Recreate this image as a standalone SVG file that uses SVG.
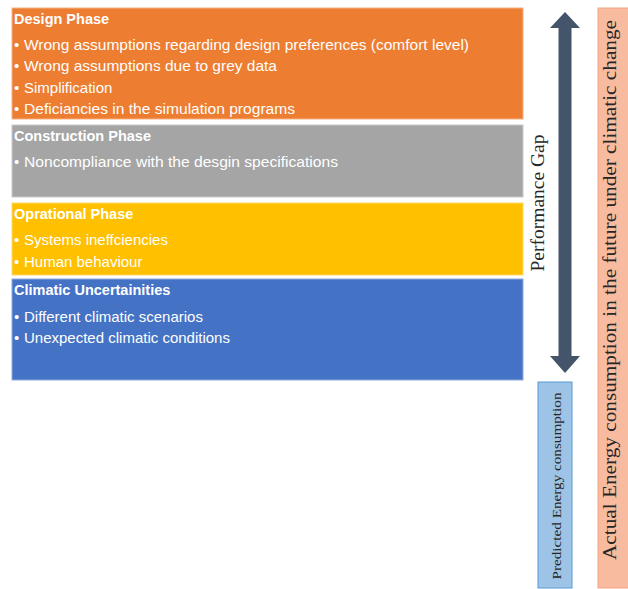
<svg xmlns="http://www.w3.org/2000/svg" width="628" height="589" viewBox="0 0 628 589">
<style>
.t{font-family:"Liberation Sans",Arial,sans-serif;fill:#fff;font-size:15px}
.h{font-weight:bold;font-size:14.5px}
.s{font-family:"Liberation Serif","Times New Roman",serif;fill:#262626}
</style>
<rect width="628" height="589" fill="#fff"/>
<g id="design">
<rect x="12" y="8" width="511" height="111" fill="#ED7D31" stroke="#F4B183" stroke-width="1"/>
<text class="t h" x="14" y="24">Design Phase</text>
<text class="t" x="14" y="50">•</text><text class="t" x="24" y="50" textLength="445" lengthAdjust="spacingAndGlyphs">Wrong assumptions regarding design preferences (comfort level)</text>
<text class="t" x="14" y="71">•</text><text class="t" x="24" y="71" textLength="253" lengthAdjust="spacingAndGlyphs">Wrong assumptions due to grey data</text>
<text class="t" x="14" y="93">•</text><text class="t" x="24" y="93">Simplification</text>
<text class="t" x="14" y="114">•</text><text class="t" x="24" y="114" textLength="271" lengthAdjust="spacingAndGlyphs">Deficiancies in the simulation programs</text>
</g>
<g id="construction">
<rect x="12" y="125" width="511" height="72" fill="#A5A5A5" stroke="#C9C9C9" stroke-width="1"/>
<text class="t h" x="14" y="141">Construction Phase</text>
<text class="t" x="14" y="167">•</text><text class="t" x="24" y="167" textLength="314" lengthAdjust="spacingAndGlyphs">Noncompliance with the desgin specifications</text>
</g>
<g id="operational">
<rect x="12" y="203" width="511" height="72" fill="#FFC000" stroke="#FFD966" stroke-width="1"/>
<text class="t h" x="14" y="219">Oprational Phase</text>
<text class="t" x="14" y="245">•</text><text class="t" x="24" y="245">Systems ineffciencies</text>
<text class="t" x="14" y="267">•</text><text class="t" x="24" y="267">Human behaviour</text>
</g>
<g id="climatic">
<rect x="12" y="279" width="511" height="101" fill="#4472C4" stroke="#8FAADC" stroke-width="1"/>
<text class="t h" x="14" y="295">Climatic Uncertainities</text>
<text class="t" x="14" y="322">•</text><text class="t" x="24" y="322">Different climatic scenarios</text>
<text class="t" x="14" y="343">•</text><text class="t" x="24" y="343">Unexpected climatic conditions</text>
</g>
<g id="connectors">
<polygon points="565,12 580,28 571.5,28 571.5,356 580,356 565,373 550,356 558.5,356 558.5,28 550,28" fill="#44546A"/>
</g>
<g id="gap-label">
<text class="s" font-size="18" transform="translate(544,203) rotate(-90)" text-anchor="middle" textLength="137" lengthAdjust="spacingAndGlyphs">Performance Gap</text>
</g>
<g id="predicted">
<rect x="538" y="382" width="34" height="206" fill="#9DC3E6" stroke="#5B9BD5" stroke-width="1"/>
<text class="s" font-size="13.5" transform="translate(561,486) rotate(-90)" text-anchor="middle" textLength="187" lengthAdjust="spacingAndGlyphs">Predicted Energy consumption</text>
</g>
<g id="actual">
<rect x="598" y="8" width="32" height="580" fill="#F8BBA0" stroke="#F4A582" stroke-width="1"/>
<text class="s" font-size="19" transform="translate(616,290) rotate(-90)" text-anchor="middle" textLength="540" lengthAdjust="spacingAndGlyphs">Actual Energy consumption in the future under climatic change</text>
</g>
</svg>
